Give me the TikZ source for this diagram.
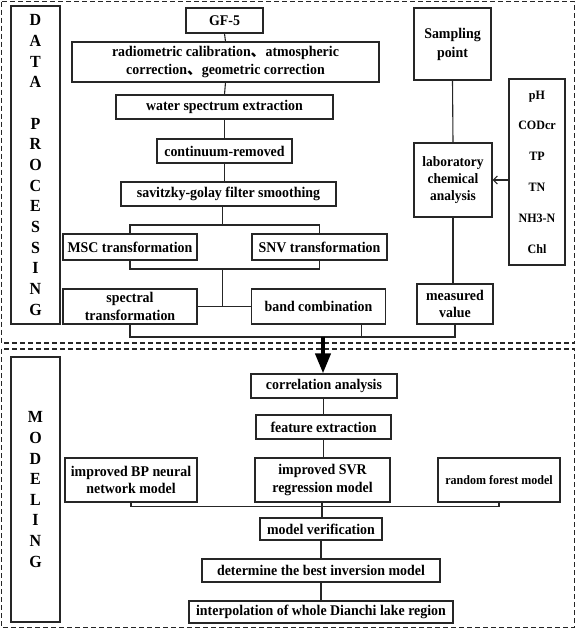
\documentclass[tikz,border=0pt]{standalone}
\usepackage{fontspec}
\setmainfont{Liberation Serif}[FakeStretch=0.94]
\newfontfamily\cjk{Noto Sans CJK SC}
\usetikzlibrary{arrows.meta}
\definecolor{ink}{HTML}{262626}
\newcommand{\dn}{{\cjk 、}}
\begin{document}
\begin{tikzpicture}[x=1pt,y=-1pt,
  box/.style={draw=ink, line width=1.2pt, inner sep=0pt, align=center,
    font=\bfseries\fontsize{14.8}{18}\selectfont, text=black},
  bx/.style 2 args={box, minimum width=#1, minimum height=#2},
  lbl/.style={draw=ink, line width=1.2pt, inner sep=0pt, align=center,
    font=\bfseries\fontsize{17}{20.65}\selectfont, text=black},
  conn/.style={draw=ink, line width=1.1pt},
  frame/.style={draw=ink, line width=1.3pt, dash pattern=on 5pt off 3pt},
  bigarrow/.style={draw=black, line width=4pt, -{Triangle[length=20pt,width=15pt]}},
  smallarrow/.style={draw=ink, line width=1.1pt, -{Straight Barb[length=4pt,width=8pt]}}
]
\useasboundingbox (0,0) rectangle (576,629);
% frames
\draw[frame] (1.5,1.5) rectangle (574.5,343);
\draw[frame] (1.5,349) rectangle (574.5,627.5);
% side labels
\node[lbl, minimum width=49pt, minimum height=318pt] (dp) at (35.5,165)
  {D\\A\\T\\A\\~\\P\\R\\O\\C\\E\\S\\S\\I\\N\\G};
\node[lbl, minimum width=49pt, minimum height=265pt] (md) at (35.5,489.5)
  {M\\O\\D\\E\\L\\I\\N\\G};
% data processing
\node[bx={77pt}{25pt}] (gf5) at (224.5,20.5) {GF-5};
\node[bx={307pt}{40pt}] (rad) at (225.5,62)
  {radiometric calibration\dn atmospheric\\correction\dn geometric correction};
\node[bx={217pt}{24pt}] (water) at (224.5,107) {water spectrum extraction};
\node[bx={135pt}{24pt}] (cont) at (224.5,151) {continuum-removed};
\node[bx={215pt}{24pt}] (sav) at (228.5,194) {savitzky-golay filter smoothing};
\node[bx={134pt}{26pt}] (msc) at (130,247) {MSC transformation};
\node[bx={135pt}{26pt}] (snv) at (319.5,247) {SNV transformation};
\node[bx={134pt}{35pt}, font=\bfseries\fontsize{14.8}{17.5}\selectfont] (spec) at (130,306.5) {spectral\\transformation};
\node[bx={134pt}{35pt}] (band) at (318.5,306.5) {band combination};
\node[bx={77pt}{72pt}, font=\bfseries\fontsize{14.8}{19}\selectfont] (samp) at (452.5,44) {Sampling\\point};
\node[bx={78pt}{74pt}, font=\bfseries\fontsize{14.3}{17}\selectfont] (lab) at (453,180) {laboratory\\chemical\\analysis};
\node[bx={76pt}{40pt}, font=\bfseries\fontsize{14.8}{17.5}\selectfont] (meas) at (455,304) {measured\\value};
\node[bx={56pt}{186pt}, font=\bfseries\fontsize{12.8}{30.8}\selectfont] (par) at (537,172) {pH\\CODcr\\TP\\TN\\NH3-N\\Chl};
% connectors top
\draw[conn] (gf5.south) -- (rad.north);
\draw[conn] (rad.south) -- (water.north);
\draw[conn] (water.south) -- (cont.north);
\draw[conn] (cont.south) -- (cont.south |- sav.north);
\coordinate (b1) at (222.5,225);
\coordinate (b2) at (222.5,269);
\coordinate (b3) at (222.5,306.5);
\draw[conn] (sav.south -| b1) -- (b1);
\draw[conn] (msc.north) |- (b1) -| (snv.north);
\draw[conn] (msc.south) |- (b2) -| (snv.south);
\draw[conn] (b2) -- (b3);
\draw[conn] (spec.east) -- (band.west);
\coordinate (j) at (323,337);
\coordinate (bj) at (361.5,337);
\draw[conn] (spec.south) |- (j) -| (meas.south);
\draw[conn] (bj |- band.south) -- (bj);
\draw[conn] (samp.south) -- (lab.north);
\draw[conn] (lab.south) -- (lab.south |- meas.north);
\draw[smallarrow] (lab.east -| par.west) -- (lab.east);
% modeling
\node[bx={146pt}{24pt}] (corr) at (324,386) {correlation analysis};
\node[bx={135pt}{24pt}] (feat) at (323.5,427) {feature extraction};
\node[bx={132pt}{44pt}, font=\bfseries\fontsize{14.8}{17.5}\selectfont] (bp) at (131,480) {improved BP neural\\network model};
\node[bx={135pt}{44pt}, font=\bfseries\fontsize{14.8}{17.5}\selectfont] (svr) at (322.5,480) {improved SVR\\regression model};
\node[bx={122pt}{44pt}, font=\bfseries\fontsize{12.8}{15}\selectfont] (rf) at (499,480) {random forest model};
\node[bx={122pt}{22pt}] (verif) at (321,529) {model verification};
\node[bx={238pt}{23pt}] (det) at (321,570.5) {determine the best inversion model};
\node[bx={264pt}{22pt}] (interp) at (321,612) {interpolation of whole Dianchi lake region};
\draw[bigarrow] (j) -- (j |- corr.north);
\draw[conn] (corr.south -| feat.north) -- (feat.north);
\draw[conn] (feat.south) -- (feat.south |- svr.north);
\coordinate (m1) at (322,506.5);
\draw[conn] (bp.south) |- (m1) -| (rf.south);
\draw[conn] (svr.south -| m1) -- (m1 |- verif.north);
\draw[conn] (verif.south) -- (det.north);
\draw[conn] (det.south) -- (interp.north);
\end{tikzpicture}
\end{document}
